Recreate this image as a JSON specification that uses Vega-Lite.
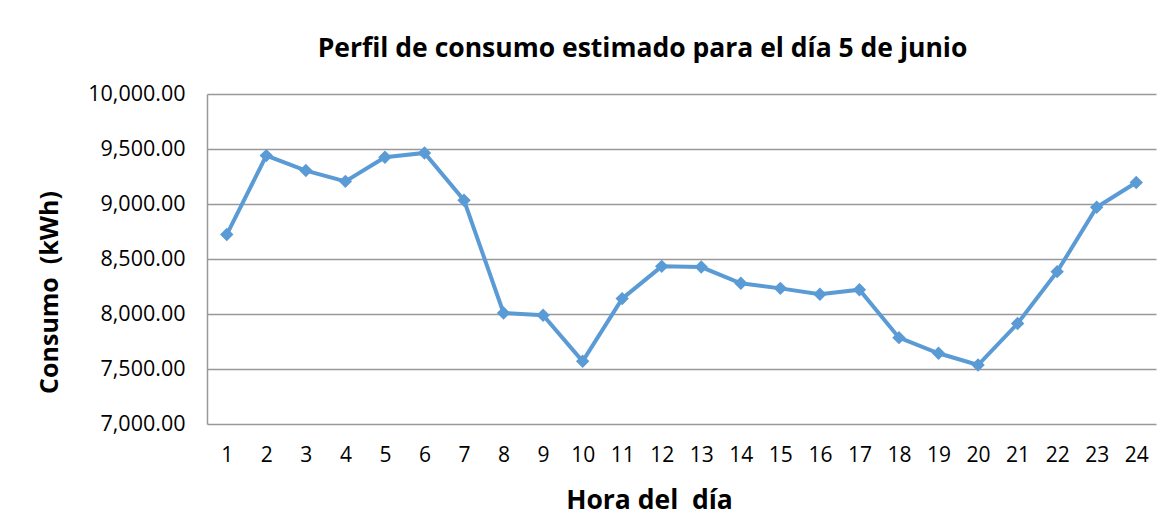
{
  "$schema": "https://vega.github.io/schema/vega-lite/v6.json",
  "autosize": {"type": "none"},
  "width": 949,
  "height": 330,
  "padding": {"left": 207, "top": 94, "right": 19, "bottom": 100},
  "background": "white",
  "title": {
    "text": "Perfil de consumo estimado para el día 5 de junio",
    "font": "Open Sans",
    "fontSize": 26.5,
    "fontWeight": "bold",
    "color": "#000000",
    "anchor": "middle",
    "dx": -39,
    "offset": 21
  },
  "data": {
    "values": [
      {"hora": 1, "consumo": 8722},
      {"hora": 2, "consumo": 9440},
      {"hora": 3, "consumo": 9304},
      {"hora": 4, "consumo": 9206},
      {"hora": 5, "consumo": 9425},
      {"hora": 6, "consumo": 9464},
      {"hora": 7, "consumo": 9034},
      {"hora": 8, "consumo": 8009},
      {"hora": 9, "consumo": 7988},
      {"hora": 10, "consumo": 7570},
      {"hora": 11, "consumo": 8140},
      {"hora": 12, "consumo": 8433},
      {"hora": 13, "consumo": 8427},
      {"hora": 14, "consumo": 8279},
      {"hora": 15, "consumo": 8233},
      {"hora": 16, "consumo": 8179},
      {"hora": 17, "consumo": 8221},
      {"hora": 18, "consumo": 7785},
      {"hora": 19, "consumo": 7643},
      {"hora": 20, "consumo": 7536},
      {"hora": 21, "consumo": 7913},
      {"hora": 22, "consumo": 8385},
      {"hora": 23, "consumo": 8970},
      {"hora": 24, "consumo": 9195}
    ]
  },
  "encoding": {
    "x": {
      "field": "hora",
      "type": "ordinal",
      "scale": {"type": "point", "padding": 0.5},
      "axis": {
        "title": "Hora del\u00a0 día",
        "labelAngle": 0,
        "labelFont": "Open Sans",
        "labelFontSize": 21,
        "labelColor": "#000000",
        "labelPadding": 20,
        "ticks": false,
        "domain": false,
        "grid": false,
        "titleFont": "Open Sans",
        "titleFontSize": 26.5,
        "titleFontWeight": "bold",
        "titleColor": "#000000",
        "titlePadding": 22,
        "titleX": 442
      }
    },
    "y": {
      "field": "consumo",
      "type": "quantitative",
      "scale": {"domain": [7000, 10000], "nice": false, "zero": false},
      "axis": {
        "title": "Consumo\u00a0 (kWh)",
        "values": [7000, 7500, 8000, 8500, 9000, 9500, 10000],
        "format": ",.2f",
        "labelFont": "Open Sans",
        "labelFontSize": 21.5,
        "labelColor": "#000000",
        "labelPadding": 22,
        "ticks": false,
        "domain": true,
        "domainColor": "#999999",
        "domainWidth": 1.5,
        "grid": true,
        "gridColor": "#999999",
        "gridWidth": 1.3,
        "titleFont": "Open Sans",
        "titleFontSize": 25,
        "titleFontWeight": "bold",
        "titleColor": "#000000",
        "titlePadding": 25,
        "titleY": 198
      }
    }
  },
  "layer": [
    {"mark": {"type": "line", "color": "#5B9BD5", "strokeWidth": 4}},
    {"mark": {"type": "point", "shape": "diamond", "filled": true, "opacity": 1, "color": "#5B9BD5", "size": 180}}
  ],
  "config": {"view": {"stroke": null}}
}
